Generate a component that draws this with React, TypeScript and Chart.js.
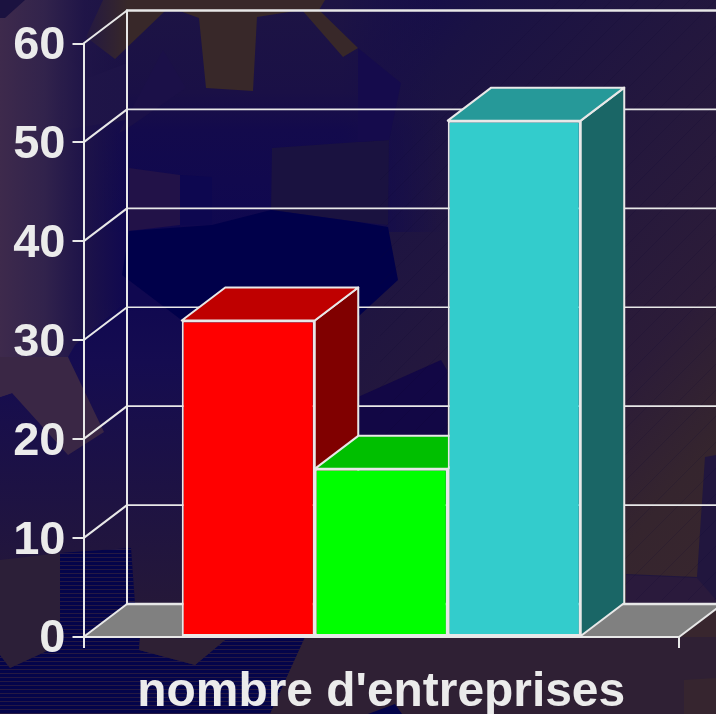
import React, { useEffect, useRef } from "react";
import { Chart, registerables } from "chart.js";

Chart.register(...registerables);

const categories = ["nombre d'entreprises"];
const seriesRed = [32];
const seriesGreen = [17];
const seriesCyan = [52.2];
const yMin = 0;
const yMax = 60;
const yStep = 10;

const LINE = "#e8e8e8";
const TEXT = "#ebebeb";
const FONT = "'Liberation Sans', Arial, sans-serif";
const DX = 43.5;
const DY = 33;

const faces = [
  { top: "#bf0000", side: "#800000" },
  { top: "#00bf00", side: "#008000" },
  { top: "#269999", side: "#1a6666" },
];

function poly(ctx: CanvasRenderingContext2D, pts: number[][], fill: any) {
  ctx.beginPath();
  pts.forEach((p, i) => (i ? ctx.lineTo(p[0], p[1]) : ctx.moveTo(p[0], p[1])));
  ctx.closePath();
  ctx.fillStyle = fill;
  ctx.fill();
}

function paintBackdrop(ctx: CanvasRenderingContext2D, w: number, h: number) {
  const base = ctx.createLinearGradient(170, 170, 700, 620);
  base.addColorStop(0, "#100850");
  base.addColorStop(0.2, "#1a1244");
  base.addColorStop(0.7, "#2c1c38");
  base.addColorStop(0.85, "#35252e");
  base.addColorStop(1, "#38262e");
  ctx.fillStyle = base;
  ctx.fillRect(0, 0, w, h);

  // upper centre, fading out to the right
  const upper = ctx.createLinearGradient(0, 0, 0, 232);
  upper.addColorStop(0, "#1d1444");
  upper.addColorStop(0.4, "#1a1046");
  upper.addColorStop(0.56, "#130a4c");
  upper.addColorStop(1, "#0f0850");
  ctx.fillStyle = upper;
  ctx.fillRect(0, 0, 340, 232);
  for (let x = 340; x < 440; x += 4) {
    ctx.globalAlpha = 1 - (x - 340) / 100;
    ctx.fillRect(x, 0, 4, 232);
  }
  ctx.globalAlpha = 1;

  // lower centre-left
  const lower = ctx.createLinearGradient(0, 300, 0, 610);
  lower.addColorStop(0, "#100850");
  lower.addColorStop(0.2, "#150c50");
  lower.addColorStop(1, "#251838");
  ctx.fillStyle = lower;
  ctx.fillRect(0, 232, 240, 380);

  poly(ctx, [[119, 133], [163, 50], [186, 88], [125, 130]], "#1b1048");
  poly(ctx, [[63, 53], [88, 78], [127, 63], [127, 120], [63, 130]], "#1e1448");
  poly(ctx, [[129, 168], [180, 175], [180, 225], [129, 231]], "#221248");
  poly(ctx, [[180, 175], [212, 177], [212, 225], [180, 225]], "#0d0750");
  poly(ctx, [[272, 148], [358, 142], [389, 140], [388, 225], [358, 222], [271, 210]], "#1a1240");
  poly(ctx, [[358, 48], [401, 83], [389, 140], [358, 142]], "#150b4c");
  poly(ctx, [[129, 231], [212, 225], [271, 210], [358, 222], [388, 227], [398, 280], [360, 315], [330, 350], [240, 360], [188, 325], [122, 275]], "#00004a");
  poly(ctx, [[358, 397], [441, 360], [447, 370], [447, 440], [358, 440]], "#120745");

  poly(ctx, [[86, 37], [115, 59], [166, 10], [177, 10], [199, 18], [206, 88], [253, 91], [257, 17], [302, 10], [343, 57], [358, 48], [319, 10], [325, 0], [103, 0]], "#382829");

  const left = ctx.createLinearGradient(0, 0, 128, 0);
  left.addColorStop(0, "rgba(62,42,76,1)");
  left.addColorStop(0.35, "rgba(51,36,76,0.95)");
  left.addColorStop(0.66, "rgba(32,21,72,0.85)");
  left.addColorStop(1, "rgba(30,20,70,0)");
  poly(ctx, [[0, 0], [128, 0], [128, 300], [75, 345], [68, 357], [12, 393], [0, 397]], left);
  poly(ctx, [[0, 0], [25, 0], [5, 18], [0, 18]], "#1b1240");
  poly(ctx, [[0, 357], [68, 357], [104, 432], [68, 455], [12, 393], [0, 397]], "#3a2745");

  // striped bottom-left region
  const stripes = [[60, 553], [131, 548], [135, 604], [140, 637], [139, 650], [195, 665], [225, 640], [307, 637], [270, 714], [0, 714], [0, 655], [10, 668], [60, 645]];
  poly(ctx, stripes, "#04044a");
  ctx.save();
  ctx.beginPath();
  stripes.forEach((p, i) => (i ? ctx.lineTo(p[0], p[1]) : ctx.moveTo(p[0], p[1])));
  ctx.closePath();
  ctx.clip();
  ctx.fillStyle = "rgba(70,45,60,0.5)";
  for (let y = 549; y < 714; y += 4) ctx.fillRect(0, y, 320, 1);
  ctx.restore();
  poly(ctx, [[0, 560], [60, 553], [60, 645], [10, 668], [0, 655]], "#2c1f38");
  poly(ctx, [[139, 650], [195, 665], [225, 640], [140, 637]], "#2e2034");
  poly(ctx, [[305, 637], [716, 637], [716, 714], [270, 714]], "#2f2034");
  poly(ctx, [[368, 714], [395, 704], [402, 714]], "#04044a");

  // right-hand panels and navy wedge
  poly(ctx, [[626, 574], [697, 577], [705, 457], [716, 455], [716, 604], [626, 604]], "#21163e");
  poly(ctx, [[626, 575], [697, 578], [716, 600], [716, 604], [626, 604]], "#2a1a3c");
  poly(ctx, [[684, 680], [716, 678], [716, 714], [684, 714]], "#36252f");

  // faint diagonal hatch on the right part
  ctx.save();
  ctx.strokeStyle = "rgba(10,5,50,0.16)";
  ctx.lineWidth = 1;
  for (let c = 560; c < 1400; c += 26) {
    ctx.beginPath();
    ctx.moveTo(Math.max(c - 600, 380), c - Math.max(c - 600, 380));
    ctx.lineTo(716, c - 716);
    ctx.stroke();
  }
  ctx.restore();
}

const cube3d = {
  id: "cube3d",
  beforeDraw(chart: any) {
    const { ctx, chartArea: a, scales } = chart;
    paintBackdrop(ctx, chart.width, chart.height);
    const y = scales.y;
    const bottom = y.getPixelForValue(yMin);
    // floor
    poly(ctx, [[a.left, bottom], [a.left + DX, bottom - DY], [a.right + DX, bottom - DY], [a.right, bottom]], "#808080");
    ctx.save();
    ctx.strokeStyle = LINE;
    ctx.lineWidth = 2;
    ctx.lineCap = "round";
    const top = y.getPixelForValue(yMax);
    ctx.beginPath();
    ctx.moveTo(a.left + DX, top - DY);
    ctx.lineTo(a.left + DX, bottom - DY);
    ctx.moveTo(a.right, bottom);
    ctx.lineTo(a.right + DX, bottom - DY);
    ctx.stroke();
    y.ticks.forEach((t: any) => {
      const py = y.getPixelForValue(t.value);
      const edge = t.value === yMin || t.value === yMax;
      ctx.lineWidth = edge ? 2.5 : 1.6;
      ctx.beginPath();
      ctx.moveTo(a.left + DX, py - DY);
      ctx.lineTo(a.right + DX, py - DY);
      ctx.stroke();
      ctx.lineWidth = 2;
      ctx.beginPath();
      ctx.moveTo(a.left, py);
      ctx.lineTo(a.left + DX, py - DY);
      ctx.stroke();
    });
    ctx.restore();
  },
  beforeDatasetsDraw(chart: any) {
    const { ctx } = chart;
    ctx.save();
    ctx.strokeStyle = LINE;
    ctx.lineWidth = 2;
    ctx.lineJoin = "round";
    chart.data.datasets.forEach((_: any, i: number) => {
      const bar = chart.getDatasetMeta(i).data[0] as any;
      const l = bar.x - bar.width / 2;
      const r = bar.x + bar.width / 2;
      const t = bar.y;
      const b = bar.base;
      const side = [[r, t], [r + DX, t - DY], [r + DX, b - DY], [r, b]];
      const roof = [[l, t], [l + DX, t - DY], [r + DX, t - DY], [r, t]];
      poly(ctx, side, faces[i].side);
      ctx.stroke();
      poly(ctx, roof, faces[i].top);
      ctx.stroke();
    });
    ctx.restore();
  },
};

export default function App() {
  const ref = useRef<HTMLCanvasElement>(null);
  useEffect(() => {
    const barStyle = { borderColor: LINE, borderWidth: 2, borderSkipped: false as const, barPercentage: 1, categoryPercentage: 0.67 };
    const chart = new Chart(ref.current!, {
      type: "bar",
      data: {
        labels: categories,
        datasets: [
          { label: "a", data: seriesRed, backgroundColor: "#ff0000", ...barStyle },
          { label: "b", data: seriesGreen, backgroundColor: "#00ff00", ...barStyle },
          { label: "c", data: seriesCyan, backgroundColor: "#33cccc", ...barStyle },
        ],
      },
      options: {
        animation: false,
        responsive: false,
        layout: { padding: { top: 43.5, right: 37, left: 0, bottom: 0 } },
        plugins: { legend: { display: false }, tooltip: { enabled: false }, title: { display: false } },
        scales: {
          x: {
            afterFit: (s: any) => { s.height = 77; },
            grid: { offset: true, drawOnChartArea: false, color: LINE, lineWidth: 2, tickLength: 11, tickColor: LINE },
            border: { display: true, color: LINE, width: 2 },
            ticks: { color: TEXT, font: { family: FONT, size: 47.9, weight: "bold" }, padding: 16, maxRotation: 0, autoSkip: false },
          },
          y: {
            min: yMin,
            max: yMax,
            afterFit: (s: any) => { s.width = 83.5; },
            grid: { drawOnChartArea: false, color: LINE, lineWidth: 2, tickLength: 11, tickColor: LINE },
            border: { display: true, color: LINE, width: 2 },
            ticks: {
              stepSize: yStep,
              color: TEXT,
              font: { family: FONT, size: 47, weight: "bold", lineHeight: "5px" },
              padding: 7,
              callback: (v: any) => ["", String(v)],
            },
          },
        },
      },
      plugins: [cube3d],
    } as any);
    return () => chart.destroy();
  }, []);
  return <canvas ref={ref} width={716} height={714} style={{ position: "absolute", left: 0, top: 0, display: "block" }} />;
}
